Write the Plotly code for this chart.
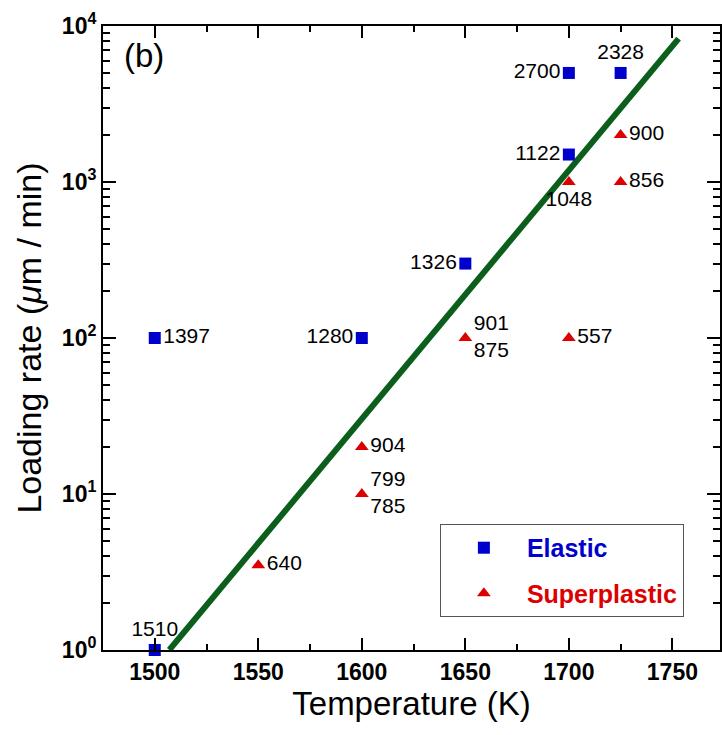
import plotly.graph_objects as go

# Elastic (blue squares)
el_T = [1500, 1500, 1600, 1650, 1700, 1700, 1725]
el_rate = [1, 100, 100, 300, 1500, 5000, 5000]
el_lab = ["1510", "1397", "1280", "1326", "1122", "2700", "2328"]
el_pos = ["top center", "middle right", "middle left", "middle left", "middle left", "middle left", "top center"]

# Superplastic (red triangles)
sp_T = [1550, 1600, 1600, 1650, 1700, 1700, 1725, 1725]
sp_rate = [3.5, 20, 10, 100, 1000, 100, 2000, 1000]
sp_lab = ["640", "904", "799<br>785", "901<br>875", "1048", "557", "900", "856"]
sp_pos = ["middle right", "middle right", "middle right", "middle right", "bottom center",
          "middle right", "middle right", "middle right"]

# fitted line
fit_T = [1507, 1753]
fit_rate = [1, 8300]

y_tickvals = [1, 10, 100, 1000, 10000]
y_ticktext = ["<b>10<sup>0</sup></b>", "<b>10<sup>1</sup></b>", "<b>10<sup>2</sup></b>",
              "<b>10<sup>3</sup></b>", "<b>10<sup>4</sup></b>"]
x_tickvals = [1500, 1550, 1600, 1650, 1700, 1750]

BLUE = "#0000CC"
RED = "#DD0000"
GREEN = "#0B5E1B"
FONT = "Liberation Sans, Arial, sans-serif"

fig = go.Figure()
fig.add_trace(go.Scatter(x=fit_T, y=fit_rate, mode="lines",
                         line=dict(color=GREEN, width=6), showlegend=False,
                         cliponaxis=False, hoverinfo="skip"))
fig.add_trace(go.Scatter(x=el_T, y=el_rate, mode="markers+text", text=el_lab,
                         textposition=el_pos, textfont=dict(size=21, color="black", family=FONT),
                         marker=dict(symbol="square", size=12, color=BLUE),
                         name="<b><span style='color:#0000CC'>Elastic</span></b>",
                         legendgroup="a", cliponaxis=False))
fig.add_trace(go.Scatter(x=sp_T, y=sp_rate, mode="markers+text", text=sp_lab,
                         textposition=sp_pos, textfont=dict(size=21, color="black", family=FONT),
                         marker=dict(symbol="triangle-up", size=12, color=RED),
                         name="<b><span style='color:#DD0000'>Superplastic</span></b>",
                         legendgroup="b", cliponaxis=False))

fig.update_layout(
    width=722, height=735,
    margin=dict(l=103, r=0, t=26, b=85),
    plot_bgcolor="white", paper_bgcolor="white",
    font=dict(family=FONT, color="black"),
    showlegend=True,
    legend=dict(x=0.546, y=0.202, xanchor="left", yanchor="top",
                bordercolor="#555555", borderwidth=1, bgcolor="white",
                font=dict(size=25, family=FONT), tracegroupgap=10,
                itemwidth=76),
    xaxis=dict(range=[1475, 1773], tickvals=x_tickvals,
               ticktext=["<b>%d</b>" % v for v in x_tickvals],
               tickfont=dict(size=23, family=FONT),
               ticks="inside", ticklen=12, tickwidth=2, tickcolor="black",
               showline=True, linecolor="black", linewidth=2, mirror="ticks",
               showgrid=False, zeroline=False,
               minor=dict(ticks="inside", ticklen=6, tickwidth=2, tickcolor="black", dtick=25, showgrid=False),
               title=dict(text="Temperature (K)", font=dict(size=33, family=FONT), standoff=4)),
    yaxis=dict(type="log", range=[0, 4], tickvals=y_tickvals, ticktext=y_ticktext,
               tickfont=dict(size=23, family=FONT),
               ticks="inside", ticklen=13, tickwidth=2, tickcolor="black",
               showline=True, linecolor="black", linewidth=2, mirror="ticks",
               showgrid=False, zeroline=False,
               minor=dict(ticks="inside", ticklen=7, tickwidth=2, tickcolor="black", dtick="D1", showgrid=False),
               title=dict(text="Loading rate (<i>μ</i>m / min)", font=dict(size=34, family=FONT), standoff=10)),
    annotations=[dict(x=0.03, y=0.985, xref="paper", yref="paper", xanchor="left", yanchor="top",
                      text="(b)", showarrow=False, font=dict(size=33, family=FONT))],
)

fig.write_html("out.html", config={"displayModeBar": False},
               post_script="document.body.style.margin='0';document.body.style.overflow='hidden';")
